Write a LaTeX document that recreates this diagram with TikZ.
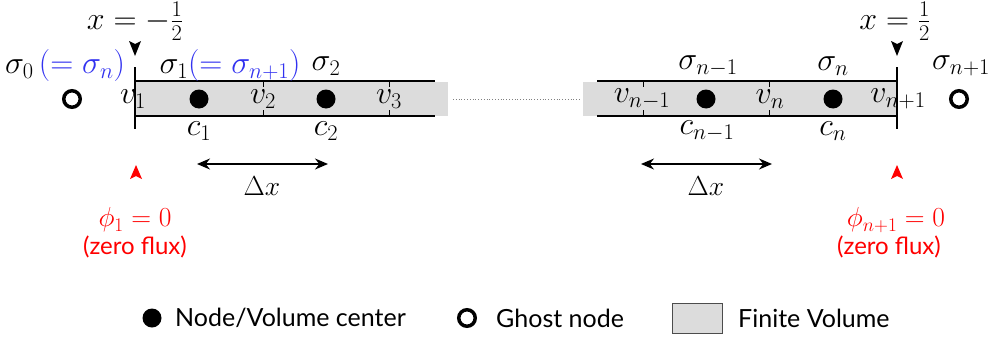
\RequirePackage{fix-cm}
\documentclass[tikz,border=0pt]{standalone}
\usepackage{fontspec}
\setmainfont{Lato}
\usetikzlibrary{arrows.meta}
\definecolor{fvgray}{RGB}{220,220,220}
\definecolor{sigblue}{RGB}{50,50,240}
\definecolor{flxred}{RGB}{255,0,0}
\tikzset{
  mlabel/.style={inner sep=0pt, font=\fontsize{32}{36}\selectfont},
  slabel/.style={inner sep=0pt, font=\fontsize{27.5}{32}\selectfont},
  tlabel/.style={inner sep=0pt, font=\fontsize{25}{30}\selectfont},
  zlabel/.style={inner sep=0pt, font=\fontsize{24}{28}\selectfont},
  barline/.style={line width=1.3pt},
  bound/.style={line width=1.8pt},
  tick/.style={line width=0.9pt},
  center/.style={circle, fill=black, minimum size=19pt, inner sep=0pt},
  ghost/.style={circle, draw=black, line width=3.5pt, minimum size=16.5pt, inner sep=0pt},
  dxarrow/.style={line width=1.3pt, {Stealth[length=13pt,width=11pt]}-{Stealth[length=13pt,width=11pt]}},
}
\begin{document}
\begin{tikzpicture}[x=1pt,y=-1pt]
\useasboundingbox (0,0) rectangle (992,340);
% finite volume bars
\fill[fvgray] (135,82) rectangle (448,116);
\fill[fvgray] (583,82) rectangle (897,116);
\draw[barline] (135,81) -- (435,81) (135,116) -- (435,116);
\draw[barline] (597,81) -- (897,81) (597,116) -- (897,116);
\draw[dotted, gray, line width=0.8pt] (453,99) -- (580,99);
% boundaries
\draw[bound] (135,67) -- (135,129);
\draw[bound] (897,67) -- (897,129);
% ticks
\foreach \t in {263,389,643,769}{
  \draw[tick] (\t,81) -- (\t,87) (\t,110) -- (\t,116);
}
% boundary markers
\fill[black] (135,56) -- (141,41) -- (135,44) -- (129,41) -- cycle;
\fill[black] (897,56) -- (903,41) -- (897,44) -- (891,41) -- cycle;
\fill[flxred] (136,165) -- (142,179) -- (136,176) -- (130,179) -- cycle;
\fill[flxred] (897,165) -- (903,179) -- (897,176) -- (891,179) -- cycle;
% nodes
\node[ghost] (g0) at (72,99) {};
\node[center] (c1d) at (199,99) {};
\node[center] (c2d) at (326,99) {};
\node[center] (cn1d) at (706,99) {};
\node[center] (cnd) at (833,99) {};
\node[ghost] (gn) at (959,99) {};
% labels
\node[mlabel] (xl) at (135,21) {$x=-\frac{1}{2}$};
\node[mlabel] (xr) at (895,21) {$x=\frac{1}{2}$};
\node[mlabel] (s0) at (65,66) {$\sigma_0\,{\color{sigblue}(=\sigma_n)}$};
\node[mlabel] (s1) at (230,66) {$\sigma_1{\color{sigblue}(=\sigma_{n+1})}$};
\node[mlabel] (s2) at (326,66) {$\sigma_2$};
\node[mlabel] (sn1) at (708,66) {$\sigma_{n-1}$};
\node[mlabel] (sn) at (833,66) {$\sigma_n$};
\node[mlabel] (snp) at (961,66) {$\sigma_{n+1}$};
\node[mlabel] (v1) at (133,99) {$v_1$};
\node[mlabel] (v2) at (263,99) {$v_2$};
\node[mlabel] (v3) at (389,99) {$v_3$};
\node[mlabel] (vn1) at (642,99) {$v_{n-1}$};
\node[mlabel] (vn) at (770,99) {$v_n$};
\node[mlabel] (vnp) at (898,99) {$v_{n+1}$};
\node[mlabel] (lc1) at (199,131) {$c_1$};
\node[mlabel] (lc2) at (326,131) {$c_2$};
\node[mlabel] (lcn1) at (707,131) {$c_{n-1}$};
\node[mlabel] (lcn) at (833,131) {$c_n$};
% delta x
\coordinate (dl1) at (197,164);
\coordinate (dr1) at (328,164);
\coordinate (dl2) at (641,164);
\coordinate (dr2) at (772,164);
\draw[dxarrow] (dl1) -- (dr1);
\draw[dxarrow] (dl2) -- (dr2);
\node[slabel] (dx1) at (262,186) {$\Delta x$};
\node[slabel] (dx2) at (706,186) {$\Delta x$};
% flux labels
\node[slabel, text=flxred] (phi1) at (135,220) {$\phi_1=0$};
\node[zlabel, text=flxred] (zf1) at (135,247) {(zero flux)};
\node[slabel, text=flxred] (phin) at (896,220) {$\phi_{n+1}=0$};
\node[zlabel, text=flxred] (zf2) at (889,247) {(zero flux)};
% legend
\node[center] (lgc) at (152,318) {};
\node[tlabel, anchor=west] (lgct) at (175,318) {Node/Volume center};
\node[ghost] (lgg) at (467,318) {};
\node[tlabel, anchor=west] (lggt) at (496,318) {Ghost node};
\draw[fill=fvgray, draw=black!70, line width=0.8pt] (672,303) rectangle (722,333);
\node[tlabel, anchor=west] (lgft) at (738,318) {Finite Volume};
\end{tikzpicture}
\end{document}
